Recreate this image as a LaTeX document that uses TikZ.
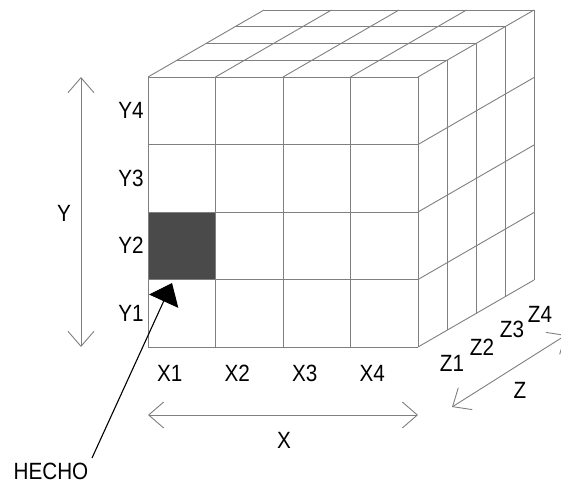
\documentclass[tikz,border=0pt]{standalone}
\usepackage{fontspec}
\setmainfont{Liberation Sans}[FakeStretch=0.88]
\usetikzlibrary{arrows.meta, positioning, calc}
\definecolor{lineaGris}{HTML}{7F7F7F}
\definecolor{celdaHecho}{HTML}{4A4A4A}

\begin{document}
\begin{tikzpicture}[x=1pt, y=1pt,
        grid/.style={draw=lineaGris, line width=0.9pt},
        lbl/.style={font=\fontsize{23.5}{28}\selectfont, inner sep=0pt},
        dim/.style={{Straight Barb[length=15pt, width=26pt]}-{Straight Barb[length=15pt, width=26pt]}, lineaGris, line width=0.9pt},
        ptr/.style={-{Triangle[length=20pt, width=32pt]}, black, line width=1.1pt}
    ]
        \useasboundingbox (0,0) rectangle (561,483);
        \clip (0,0) rectangle (561,483);
        % celda marcada
        \fill[celdaHecho] (148,203.5) rectangle ++(67.5,67.5);
        % cara frontal
        \foreach \i in {0,...,4} {
            \draw[grid] (148+67.5*\i,136) -- ++(0,270);
            \draw[grid] (148,136+67.5*\i) -- ++(270,0);
        }
        % cara superior
        \foreach \i in {0,...,4} \draw[grid] (148+67.5*\i,406) -- ++(116,67);
        \foreach \k in {1,...,4} \draw[grid] (148+29*\k,406+16.75*\k) -- ++(270,0);
        % cara lateral
        \foreach \k in {1,...,4} \draw[grid] (418+29*\k,136+16.75*\k) -- ++(0,270);
        \foreach \j in {0,...,3} \draw[grid] (418,136+67.5*\j) -- ++(116,67);

        % etiquetas
        \foreach \j in {1,...,4} \node[lbl] (y\j) at (131,102.25+67.5*\j) {Y\j};
        \foreach \i in {1,...,4} \node[lbl] (x\i) at (102.25+67.5*\i,109.5) {X\i};
        \node[lbl] (z1) at (452,120) {Z1};
        \node[lbl] (z2) at (482,136) {Z2};
        \node[lbl] (z3) at (512,154) {Z3};
        \node[lbl] (z4) at (540,169) {Z4};

        % ejes
        \coordinate (yTop) at (81,406);
        \coordinate (yBot) at (81,136);
        \coordinate (xIzq) at (148,68);
        \coordinate (xDer) at (418,68);
        \coordinate (zIni) at (452,76);
        \coordinate (zFin) at (566,148);
        \draw[dim] (yBot) -- (yTop);
        \draw[dim] (xIzq) -- (xDer);
        \draw[dim] (zIni) -- (zFin);
        \node[lbl] (ejeY) at (64,270) {Y};
        \node[lbl] (ejeX) at (284,43) {X};
        \node[lbl] (ejeZ) at (520,93) {Z};

        % hecho
        \node[lbl] (hecho) at (51,12) {HECHO};
        \coordinate (hechoIni) at (92,25);
        \coordinate (celda) at (172,200);
        \draw[ptr] (hechoIni) -- (celda);
    \end{tikzpicture}
\end{document}
